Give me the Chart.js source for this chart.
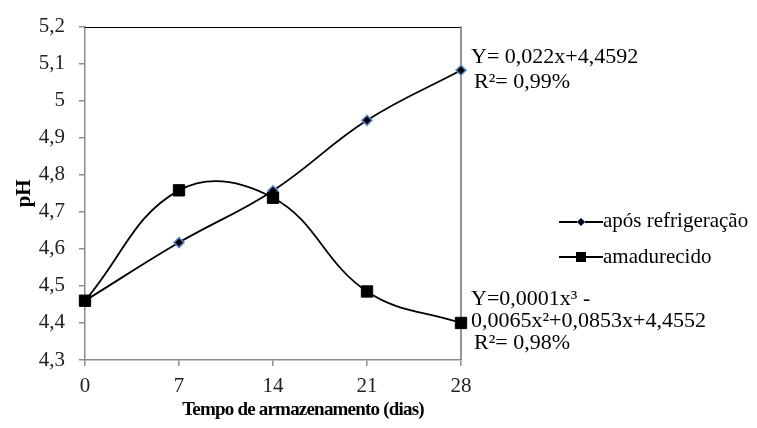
<!DOCTYPE html>
<html lang="pt">
<head>
    <meta charset="UTF-8">
    <title>pH x Tempo de armazenamento</title>
    <style>
        body {
            margin: 0;
            background-color: #fff;
        }
        #chartContainer {
            position: relative;
            width: 757px;
            height: 428px;
        }
    </style>
</head>
<body>
    <div id="chartContainer">
        <canvas id="phChart"></canvas>
    </div>

    <script src="https://cdn.jsdelivr.net/npm/chart.js"></script>
    <script>
        // Dados
        const dias = [0, 7, 14, 21, 28];
        const aposRefrigeracao = [4.46, 4.617, 4.757, 4.947, 5.082];
        const amadurecido = [4.46, 4.758, 4.738, 4.485, 4.40];

        const nomesSeries = ['após refrigeração', 'amadurecido'];
        const equacaoRefrig = ['Y= 0,022x+4,4592', 'R²= 0,99%'];
        const equacaoAmad = ['Y=0,0001x³ -', '0,0065x²+0,0853x+4,4552', 'R²= 0,98%'];
        const tituloX = 'Tempo de armazenamento (dias)';
        const tituloY = 'pH';

        const serif = "'Liberation Serif', 'Times New Roman', serif";

        function toPoints(ys) {
            return dias.map((d, i) => ({ x: d, y: ys[i] }));
        }

        // draws the frame, legend, equations and x title
        const extras = {
            id: 'extras',
            beforeDatasetsDraw(chart) {
                const { ctx, chartArea: a } = chart;
                ctx.save();
                ctx.strokeStyle = '#000';
                ctx.lineWidth = 1;
                ctx.beginPath();
                ctx.moveTo(a.left, Math.round(a.top) + 0.5);
                ctx.lineTo(a.right, Math.round(a.top) + 0.5);
                ctx.stroke();
                ctx.strokeStyle = '#707070';
                ctx.lineWidth = 1.5;
                ctx.beginPath();
                ctx.moveTo(a.right, a.top);
                ctx.lineTo(a.right, a.bottom);
                ctx.stroke();
                ctx.restore();
            },
            afterDraw(chart) {
                const { ctx, chartArea: a } = chart;
                ctx.save();
                ctx.fillStyle = '#000';
                ctx.textAlign = 'left';
                ctx.textBaseline = 'middle';

                // equations
                ctx.font = '22px ' + serif;
                ctx.fillText(equacaoRefrig[0], a.right + 10, 57);
                ctx.fillText(equacaoRefrig[1], a.right + 13, 82);
                ctx.fillText(equacaoAmad[0], a.right + 10, 299);
                ctx.fillText(equacaoAmad[1], a.right + 10, 321);
                ctx.fillText(equacaoAmad[2], a.right + 13, 343);

                // legend
                const lx0 = a.right + 98, lx1 = a.right + 142;
                const rows = [222, 257];
                ctx.strokeStyle = '#000';
                ctx.lineWidth = 1.8;
                rows.forEach(y => {
                    ctx.beginPath();
                    ctx.moveTo(lx0, y);
                    ctx.lineTo(lx1, y);
                    ctx.stroke();
                });
                const cx = (lx0 + lx1) / 2;
                // diamond
                ctx.beginPath();
                ctx.moveTo(cx, rows[0] - 4);
                ctx.lineTo(cx + 4, rows[0]);
                ctx.lineTo(cx, rows[0] + 4);
                ctx.lineTo(cx - 4, rows[0]);
                ctx.closePath();
                ctx.fillStyle = '#000';
                ctx.fill();
                ctx.strokeStyle = '#4f7fc4';
                ctx.lineWidth = 1;
                ctx.stroke();
                // square
                ctx.fillStyle = '#000';
                ctx.fillRect(cx - 5, rows[1] - 5, 10, 10);

                ctx.font = '21px ' + serif;
                ctx.fillText(nomesSeries[0], lx1, rows[0] - 1);
                ctx.fillText(nomesSeries[1], lx1, rows[1]);

                // x axis title
                ctx.letterSpacing = '-0.8px';
                ctx.font = 'bold 19px ' + serif;
                ctx.textAlign = 'center';
                ctx.fillText(tituloX, a.left + 218, 410);
                ctx.restore();
            }
        };

        const ctx = document.getElementById('phChart').getContext('2d');
        const chart = new Chart(ctx, {
            type: 'line',
            data: {
                datasets: [
                    {
                        label: nomesSeries[0],
                        data: toPoints(aposRefrigeracao),
                        borderColor: '#000',
                        borderWidth: 1.8,
                        tension: 0.4,
                        pointStyle: 'rectRot',
                        pointRadius: 5,
                        pointBackgroundColor: '#000',
                        pointBorderColor: '#5b8bd0',
                        pointBorderWidth: 1.5,
                        clip: false,
                        order: 1
                    },
                    {
                        label: nomesSeries[1],
                        data: toPoints(amadurecido),
                        borderColor: '#000',
                        borderWidth: 1.8,
                        tension: 0.4,
                        pointStyle: 'rect',
                        pointRadius: 8,
                        pointBackgroundColor: '#000',
                        pointBorderColor: '#000',
                        pointBorderWidth: 1,
                        clip: false,
                        order: 0
                    }
                ]
            },
            options: {
                responsive: true,
                maintainAspectRatio: false,
                animation: false,
                events: [],
                layout: {
                    padding: { left: 0, top: 22, right: 296, bottom: 0 }
                },
                scales: {
                    x: {
                        type: 'linear',
                        min: 0,
                        max: 28,
                        afterFit(scale) { scale.height = 68; },
                        ticks: {
                            stepSize: 7,
                            padding: 8,
                            color: '#222',
                            font: { family: serif, size: 21 }
                        },
                        grid: {
                            drawOnChartArea: false,
                            drawTicks: true,
                            tickLength: 6,
                            color: '#8c8c8c',
                            lineWidth: 1.5
                        },
                        border: { color: '#8c8c8c', width: 1.5 }
                    },
                    y: {
                        min: 4.3,
                        max: 5.2,
                        afterFit(scale) { scale.width = 85; },
                        ticks: {
                            stepSize: 0.1,
                            padding: 14,
                            color: '#222',
                            font: { family: serif, size: 21 },
                            callback: v => String(Math.round(v * 10) / 10).replace('.', ',')
                        },
                        grid: {
                            drawOnChartArea: false,
                            drawTicks: true,
                            tickLength: 6,
                            color: '#8c8c8c',
                            lineWidth: 1.5
                        },
                        border: { color: '#8c8c8c', width: 1.5 },
                        title: {
                            display: true,
                            text: tituloY,
                            color: '#000',
                            font: { family: serif, size: 21, weight: 'bold' },
                            padding: { top: 12, bottom: 0 }
                        }
                    }
                },
                plugins: {
                    legend: { display: false },
                    tooltip: { enabled: false }
                }
            },
            plugins: [extras]
        });
    </script>
</body>
</html>
